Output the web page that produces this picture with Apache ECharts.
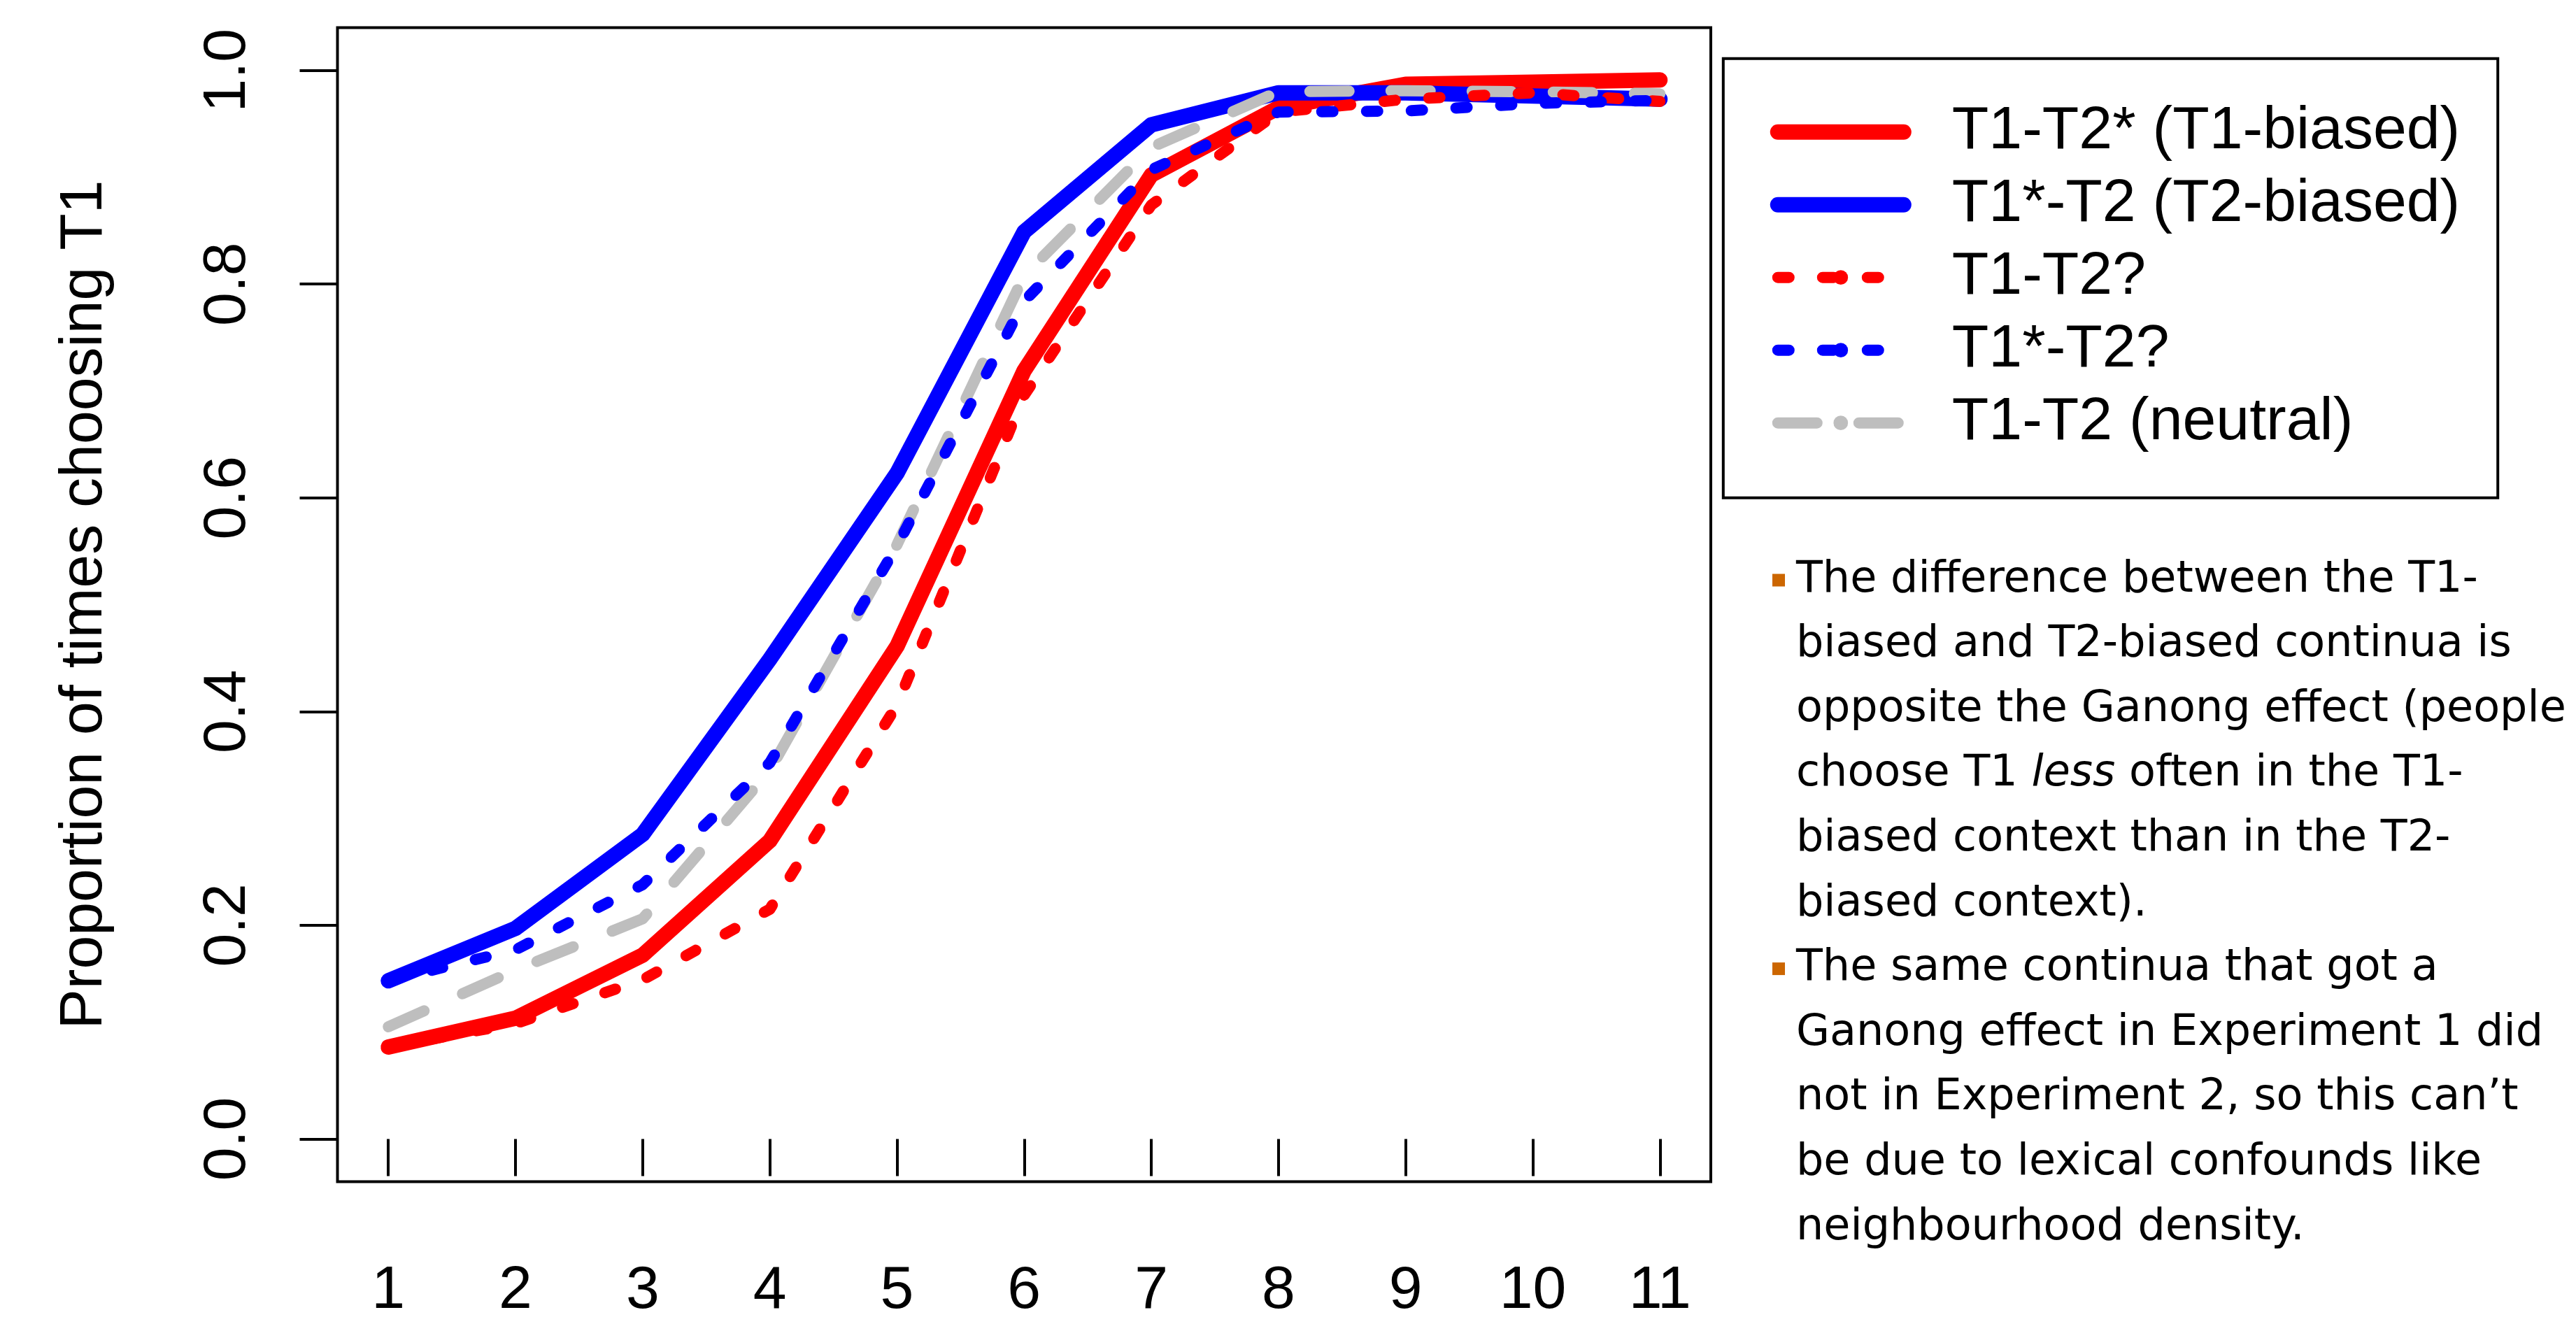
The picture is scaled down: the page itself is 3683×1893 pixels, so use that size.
<!DOCTYPE html>
<html>
<head>
<meta charset="utf-8">
<title>Proportion of times choosing T1</title>
<script src="https://cdn.jsdelivr.net/npm/echarts@6.0.0/dist/echarts.min.js"></script>
<style>
  html, body { margin: 0; padding: 0; background: #fff; }
  #chart { width: 3683px; height: 1893px; }
</style>
</head>
<body>
<div id="chart"></div>
<script>
// continuum steps
const levels = [1, 2, 3, 4, 5, 6, 7, 8, 9, 10, 11]
const xTicks = [1, 2, 3, 4, 5, 6, 7, 8, 9, 10, 11]
const yTicks = [0, 0.2, 0.4, 0.6, 0.8, 1.0]

// proportion of T1 responses per step
const t1Biased = [0.086, 0.113, 0.172, 0.279, 0.461, 0.719, 0.902, 0.965, 0.987, 0.989, 0.991]
const t2Biased = [0.148, 0.197, 0.285, 0.449, 0.623, 0.849, 0.949, 0.979, 0.979, 0.976, 0.973]
const t1Ambig = [0.086, 0.108, 0.149, 0.215, 0.406, 0.696, 0.874, 0.961, 0.973, 0.979, 0.971]
const t2Ambig = [0.148, 0.177, 0.238, 0.352, 0.555, 0.784, 0.907, 0.961, 0.962, 0.969, 0.972]
const neutral = [0.105, 0.158, 0.206, 0.345, 0.556, 0.808, 0.928, 0.980, 0.981, 0.980, 0.978]

const seriesNames = ['T1-T2* (T1-biased)', 'T1*-T2 (T2-biased)', 'T1-T2?', 'T1*-T2?', 'T1-T2 (neutral)']

// side note, one entry per printed line; bullet marks the start of a point
const noteLines = [
  { text: 'The difference between the T1-', bullet: true },
  { text: 'biased and T2-biased continua is' },
  { text: 'opposite the Ganong effect (people' },
  { text: 'choose T1 {i|less} often in the T1-' },
  { text: 'biased context than in the T2-' },
  { text: 'biased context).' },
  { text: 'The same continua that got a', bullet: true },
  { text: 'Ganong effect in Experiment 1 did' },
  { text: 'not in Experiment 2, so this can\u2019t' },
  { text: 'be due to lexical confounds like' },
  { text: 'neighbourhood density.' },
]

const FONT = '"Liberation Sans", Arial, Helvetica, sans-serif'
const NOTE_FONT = '"DejaVu Sans", Verdana, sans-serif'

function pairs(vals) {
  return levels.map((x, i) => [x, vals[i]])
}

function lineSeries(name, vals, color, width, dash) {
  return {
    name: name,
    type: 'line',
    data: pairs(vals),
    symbol: 'none',
    silent: true,
    lineStyle: {
      color: color,
      width: width,
      type: dash || 'solid',
      cap: 'round',
      join: 'round',
    },
    itemStyle: { color: color },
  }
}

const chart = echarts.init(document.getElementById('chart'), null, { renderer: 'canvas' })

// note text and bullets
const noteX = 2568
const noteTop = 829.5
const noteStep = 92.6
const graphics = []
noteLines.forEach((ln, i) => {
  const cy = noteTop + i * noteStep
  if (ln.bullet) {
    graphics.push({
      type: 'rect',
      shape: { x: 2534, y: cy - 9, width: 18, height: 18 },
      style: { fill: '#CC6600' },
    })
  }
  graphics.push({
    type: 'text',
    x: noteX,
    y: cy,
    style: {
      text: ln.text,
      fontFamily: NOTE_FONT,
      fontSize: 62,
      fill: '#000',
      align: 'left',
      verticalAlign: 'middle',
      rich: {
        i: { fontFamily: NOTE_FONT, fontSize: 62, fontStyle: 'italic', fill: '#000' },
      },
    },
  })
})

const options = {
  animation: false,
  backgroundColor: '#fff',
  textStyle: { fontFamily: FONT },
  grid: {
    left: 482.5,
    top: 39.5,
    width: 1963.5,
    height: 1650,
    show: true,
    borderColor: '#000',
    borderWidth: 4,
    backgroundColor: 'transparent',
    containLabel: false,
  },
  xAxis: {
    type: 'value',
    min: 0.6,
    max: 11.4,
    axisLine: { show: false },
    splitLine: { show: false },
    axisTick: {
      show: true,
      length: 53,
      customValues: xTicks,
      lineStyle: { color: '#000', width: 4 },
    },
    axisLabel: {
      customValues: xTicks,
      margin: 114,
      fontSize: 86,
      fontFamily: FONT,
      color: '#000',
    },
  },
  yAxis: {
    type: 'value',
    min: -0.04,
    max: 1.04,
    name: 'Proportion of times choosing T1',
    nameLocation: 'middle',
    nameGap: 318,
    nameTextStyle: { fontSize: 86, fontFamily: FONT, color: '#000' },
    axisLine: { show: false },
    splitLine: { show: false },
    axisTick: {
      show: true,
      length: 54,
      customValues: yTicks,
      lineStyle: { color: '#000', width: 4 },
    },
    axisLabel: {
      customValues: yTicks,
      formatter: (v) => v.toFixed(1),
      rotate: 90,
      margin: 113,
      fontSize: 86,
      fontFamily: FONT,
      color: '#000',
    },
  },
  legend: {
    orient: 'vertical',
    left: 2463.8,
    top: 83.7,
    data: seriesNames,
    itemWidth: 180,
    itemHeight: 26,
    itemGap: 0,
    padding: [53, 54, 55, 67],
    borderColor: '#000',
    borderWidth: 4,
    selectedMode: false,
    lineStyle: { width: 'inherit', type: 'inherit', cap: 'inherit' },
    textStyle: {
      fontSize: 86,
      fontFamily: FONT,
      color: '#000',
      lineHeight: 104,
      padding: [0, 0, 0, 64],
    },
  },
  // draw order: solid lines first, then grey, then the dotted ones on top
  series: [
    lineSeries(seriesNames[0], t1Biased, '#FF0000', 22),
    lineSeries(seriesNames[1], t2Biased, '#0000FF', 22),
    lineSeries(seriesNames[4], neutral, '#BEBEBE', 16, [56, 60]),
    lineSeries(seriesNames[2], t1Ambig, '#FF0000', 16, [16, 48]),
    lineSeries(seriesNames[3], t2Ambig, '#0000FF', 16, [16, 48]),
  ],
  graphic: graphics,
}

options && chart.setOption(options, false)
</script>
</body>
</html>
